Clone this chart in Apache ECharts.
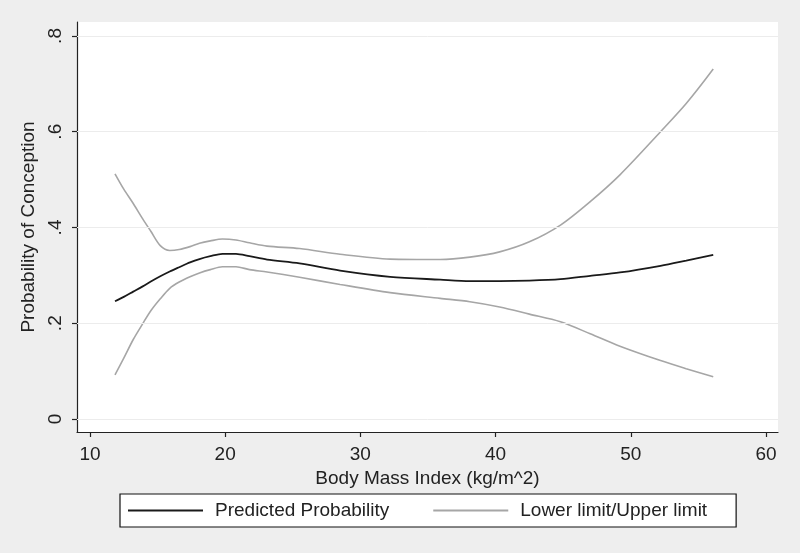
<!DOCTYPE html>
<html>
<head>
<meta charset="utf-8">
<script src="https://cdn.jsdelivr.net/npm/echarts@6/dist/echarts.min.js"></script>
<style>html,body{margin:0;padding:0;background:#eeeeee}#c{width:800px;height:553px}</style>
</head>
<body>
<div id="c"></div>
<script>
const bmi = [11.85, 12.5, 13.2, 13.9, 14.5, 15.2, 15.9, 16.6, 17.4, 18.1, 18.9, 19.8, 20.8, 21.8, 23.1, 25.5, 28.5, 32.2, 35.9, 38.1, 40.3, 42.5, 44.8, 47.0, 49.2, 52.2, 54.1, 56.1];
const predicted = [0.246, 0.255, 0.266, 0.277, 0.287, 0.298, 0.308, 0.317, 0.327, 0.334, 0.340, 0.345, 0.345, 0.340, 0.333, 0.325, 0.310, 0.297, 0.291, 0.288, 0.288, 0.289, 0.292, 0.299, 0.306, 0.320, 0.331, 0.343];
const upper = [0.512, 0.480, 0.450, 0.418, 0.392, 0.362, 0.352, 0.354, 0.360, 0.367, 0.372, 0.376, 0.374, 0.368, 0.361, 0.356, 0.344, 0.334, 0.333, 0.338, 0.349, 0.370, 0.405, 0.454, 0.510, 0.600, 0.659, 0.731];
const lower = [0.092, 0.127, 0.166, 0.199, 0.226, 0.251, 0.273, 0.286, 0.297, 0.305, 0.312, 0.318, 0.318, 0.312, 0.307, 0.296, 0.281, 0.264, 0.252, 0.245, 0.234, 0.219, 0.203, 0.178, 0.152, 0.122, 0.105, 0.088];
const xTicks = [10, 20, 30, 40, 50, 60];
const yTicks = [0, 0.2, 0.4, 0.6, 0.8];

const pair = (ys) => bmi.map((x, i) => [x, ys[i]]);
const FONT = 'Liberation Sans, Arial, sans-serif';
const TXT = '#222222';

const chart = echarts.init(document.getElementById('c'), null, {renderer: 'canvas'});
chart.setOption({
  animation: false,
  backgroundColor: '#eeeeee',
  textStyle: {fontFamily: FONT},
  grid: {left: 77, right: 22, top: 22, bottom: 121, show: true, backgroundColor: '#ffffff', borderWidth: 0},
  xAxis: {
    type: 'value', min: 9.04, max: 60.89,
    name: 'Body Mass Index (kg/m^2)', nameLocation: 'middle', nameGap: 27,
    nameTextStyle: {fontSize: 19, color: TXT, fontFamily: FONT},
    axisLine: {show: true, onZero: false, lineStyle: {color: '#222', width: 1.2}},
    axisTick: {show: true, length: 5, customValues: xTicks, lineStyle: {color: '#222', width: 1.2}},
    axisLabel: {customValues: xTicks, fontSize: 19, color: TXT, margin: 13, fontFamily: FONT},
    splitLine: {show: false}
  },
  yAxis: {
    type: 'value', min: -0.0272, max: 0.8292,
    name: 'Probability of Conception', nameLocation: 'middle', nameGap: 25, nameRotate: 90,
    nameTextStyle: {fontSize: 19, color: TXT, fontFamily: FONT},
    axisLine: {show: true, onZero: false, lineStyle: {color: '#222', width: 1.2}},
    axisTick: {show: true, length: 5, customValues: yTicks, lineStyle: {color: '#222', width: 1.2}},
    axisLabel: {customValues: yTicks, rotate: 90, fontSize: 19, color: TXT, margin: 12, fontFamily: FONT,
      formatter: v => v === 0 ? '0' : String(v).replace(/^0/, '')},
    splitLine: {show: false}
  },
  legend: {
    data: ['Predicted Probability', 'Lower limit/Upper limit'],
    left: 120, top: 494,
    padding: [7, 29, 7, 8],
    itemGap: 44, itemWidth: 75, itemHeight: 2,
    icon: 'rect',
    backgroundColor: '#ffffff', borderColor: '#111', borderWidth: 1.2,
    textStyle: {fontSize: 19, color: TXT, fontFamily: FONT, padding: [0, 0, 0, 7]}
  },
  series: [
    {
      type: 'line', name: 'grid', data: [], z: 1, silent: true,
      markLine: {silent: true, symbol: ['none', 'none'], label: {show: false},
        lineStyle: {color: '#ececec', type: 'solid', width: 1},
        data: yTicks.map(v => ({yAxis: v}))}
    },
    {type: 'line', name: 'Lower limit/Upper limit', data: pair(upper), smooth: 0.3, showSymbol: false, z: 3,
      lineStyle: {color: '#a6a6a6', width: 1.6}, itemStyle: {color: '#a6a6a6'}},
    {type: 'line', name: 'Lower limit/Upper limit', data: pair(lower), smooth: 0.3, showSymbol: false, z: 3,
      lineStyle: {color: '#a6a6a6', width: 1.6}, itemStyle: {color: '#a6a6a6'}},
    {type: 'line', name: 'Predicted Probability', data: pair(predicted), smooth: 0.3, showSymbol: false, z: 4,
      lineStyle: {color: '#1a1a1a', width: 1.8}, itemStyle: {color: '#1a1a1a'}}
  ]
});
</script>
</body>
</html>
